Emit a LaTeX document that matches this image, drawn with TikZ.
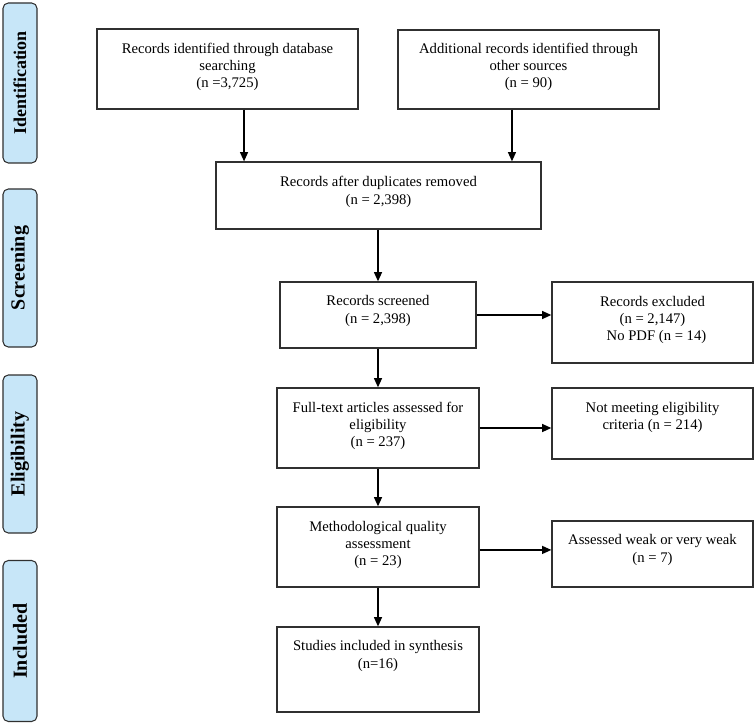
\documentclass[tikz,border=0pt]{standalone}
\usepackage{fontspec}
\setmainfont{Liberation Serif}
\usetikzlibrary{arrows.meta}
\definecolor{phasefill}{HTML}{C7E6F8}
\definecolor{edge}{HTML}{303030}
\tikzset{
  bx/.style 2 args={draw=edge, line width=0.95pt, minimum width=#1*0.75pt, minimum height=#2*0.75pt, inner sep=0pt},
  txt/.style={align=center, font=\fontsize{11}{12.9}\selectfont, inner sep=0pt},
  phase/.style 2 args={draw=edge, line width=0.8pt, fill=phasefill, rounded corners=4pt, rotate=90,
     minimum width=#1*0.75pt, minimum height=#2*0.75pt, inner sep=0pt, font=\fontsize{15}{17}\selectfont\bfseries},
  arr/.style={draw=black, line width=1.1pt, -{Triangle[width=6pt,length=7pt]}}
}
\begin{document}
\begin{tikzpicture}[x=0.75pt,y=-0.75pt]
\useasboundingbox (0,0) rectangle (756,723);
% phase labels
\node[phase={160}{34}, font=\fontsize{13.5}{16}\selectfont\bfseries] (p1) at (20,83) {Identification};
\node[phase={158}{34}] (p2) at (20,268) {Screening};
\node[phase={158}{34}] (p3) at (20,454) {Eligibility};
\node[phase={161}{34}] (p4) at (20,641) {Included};
% boxes
\node[bx={261}{80}] (A) at (227.5,69) {};
\node[bx={261}{79}] (B) at (528.5,69.5) {};
\node[bx={325}{67}] (C) at (378.5,195.5) {};
\node[bx={196}{66}] (D) at (378,315) {};
\node[bx={201}{81}] (E) at (652.5,322.5) {};
\node[bx={202}{80}] (F) at (378,428) {};
\node[bx={201}{71}] (G) at (652.5,423.5) {};
\node[bx={202}{80}] (H) at (378,547) {};
\node[bx={201}{66}] (I) at (652.5,554) {};
\node[bx={202}{85}] (J) at (378,669.5) {};
% texts
\node[txt] (At) at (227.5,67) {Records identified through database\\searching\\(n =3,725)};
\node[txt] (Bt) at (528.5,67) {Additional records identified through\\other sources\\(n = 90)};
\node[txt] (Ct) at (378.5,192) {Records after duplicates removed\\(n = 2,398)};
\node[txt] (Dt) at (378,311) {Records screened\\(n = 2,398)};
\node[txt] (Et) at (652.5,320) {Records excluded\\(n = 2,147)\\\hspace{6pt}No PDF (n = 14)};
\node[txt] (Ft) at (378,426) {Full-text articles assessed for\\eligibility\\(n = 237)};
\node[txt] (Gt) at (652.5,417.5) {Not meeting eligibility\\criteria (n = 214)};
\node[txt] (Ht) at (378,545) {Methodological quality\\assessment\\(n = 23)};
\node[txt] (It) at (652.5,550) {Assessed weak or very weak\\(n = 7)};
\node[txt] (Jt) at (378,656) {Studies included in synthesis\\(n=16)};
% arrows
\draw[arr] ([xshift=12.4pt]A.south) -- ([xshift=12.4pt]A.south |- C.north);
\draw[arr] ([xshift=-12.4pt]B.south) -- ([xshift=-12.4pt]B.south |- C.north);
\draw[arr] (C.south -| D.north) -- (D.north);
\draw[arr] (D.east) -- (D.east -| E.west);
\draw[arr] (D.south) -- (F.north);
\draw[arr] (F.east) -- (F.east -| G.west);
\draw[arr] (F.south) -- (H.north);
\draw[arr] ([yshift=-2.2pt]H.east) -- ([yshift=-2.2pt]H.east -| I.west);
\draw[arr] (H.south) -- (J.north);
\end{tikzpicture}
\end{document}
